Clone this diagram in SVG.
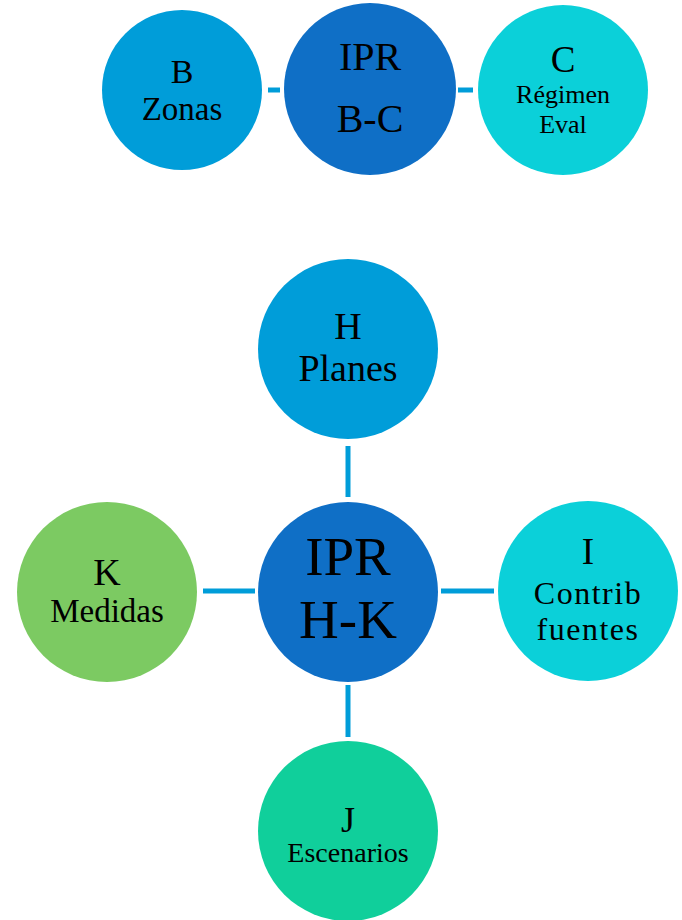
<svg xmlns="http://www.w3.org/2000/svg" width="682" height="920" viewBox="0 0 682 920">
<style>
.t{font-family:"Liberation Serif","DejaVu Serif",serif;fill:#000;text-anchor:middle}
.c{stroke:#009DD9;stroke-width:5;fill:none}
</style>
<rect width="682" height="920" fill="#fff"/>
<g id="connectors">
<line class="c" x1="268" y1="90" x2="280" y2="90"/>
<line class="c" x1="458" y1="90" x2="473" y2="90"/>
<line class="c" x1="348" y1="446" x2="348" y2="497"/>
<line class="c" x1="441" y1="591" x2="494" y2="591"/>
<line class="c" x1="348" y1="685" x2="348" y2="737"/>
<line class="c" x1="203" y1="591" x2="255" y2="591"/>
</g>
<g id="B">
<circle cx="182" cy="90" r="80" fill="#009DD9"/>
<text class="t" x="182" y="83" font-size="34">B</text>
<text class="t" x="182" y="120" font-size="33">Zonas</text>
</g>
<g id="IPR_BC">
<circle cx="370" cy="89" r="86" fill="#0F6FC6"/>
<text class="t" x="370" y="70" font-size="40">IPR</text>
<text class="t" x="370" y="132" font-size="40">B-C</text>
</g>
<g id="C">
<circle cx="563" cy="90" r="85" fill="#0BD0D9"/>
<text class="t" x="563" y="72" font-size="37">C</text>
<text class="t" x="563" y="103" font-size="26">Régimen</text>
<text class="t" x="563" y="133" font-size="26">Eval</text>
</g>
<g id="H">
<circle cx="348" cy="349" r="90" fill="#009DD9"/>
<text class="t" x="348" y="339" font-size="38">H</text>
<text class="t" x="348" y="381" font-size="38">Planes</text>
</g>
<g id="IPR_HK">
<circle cx="348" cy="592" r="90" fill="#0F6FC6"/>
<text class="t" x="348" y="575" font-size="55">IPR</text>
<text class="t" x="348" y="638" font-size="55">H-K</text>
</g>
<g id="I">
<circle cx="588" cy="591" r="90" fill="#0BD0D9"/>
<text class="t" x="588" y="564" font-size="37">I</text>
<text class="t" x="588" y="604" font-size="32" letter-spacing="1.5">Contrib</text>
<text class="t" x="588" y="640" font-size="32" letter-spacing="1.5">fuentes</text>
</g>
<g id="K">
<circle cx="107" cy="592" r="90" fill="#7CCA62"/>
<text class="t" x="107" y="585" font-size="38">K</text>
<text class="t" x="107" y="622" font-size="33">Medidas</text>
</g>
<g id="J">
<circle cx="348" cy="831" r="90" fill="#10CF9B"/>
<text class="t" x="348" y="832" font-size="36">J</text>
<text class="t" x="348" y="862" font-size="28">Escenarios</text>
</g>
</svg>
